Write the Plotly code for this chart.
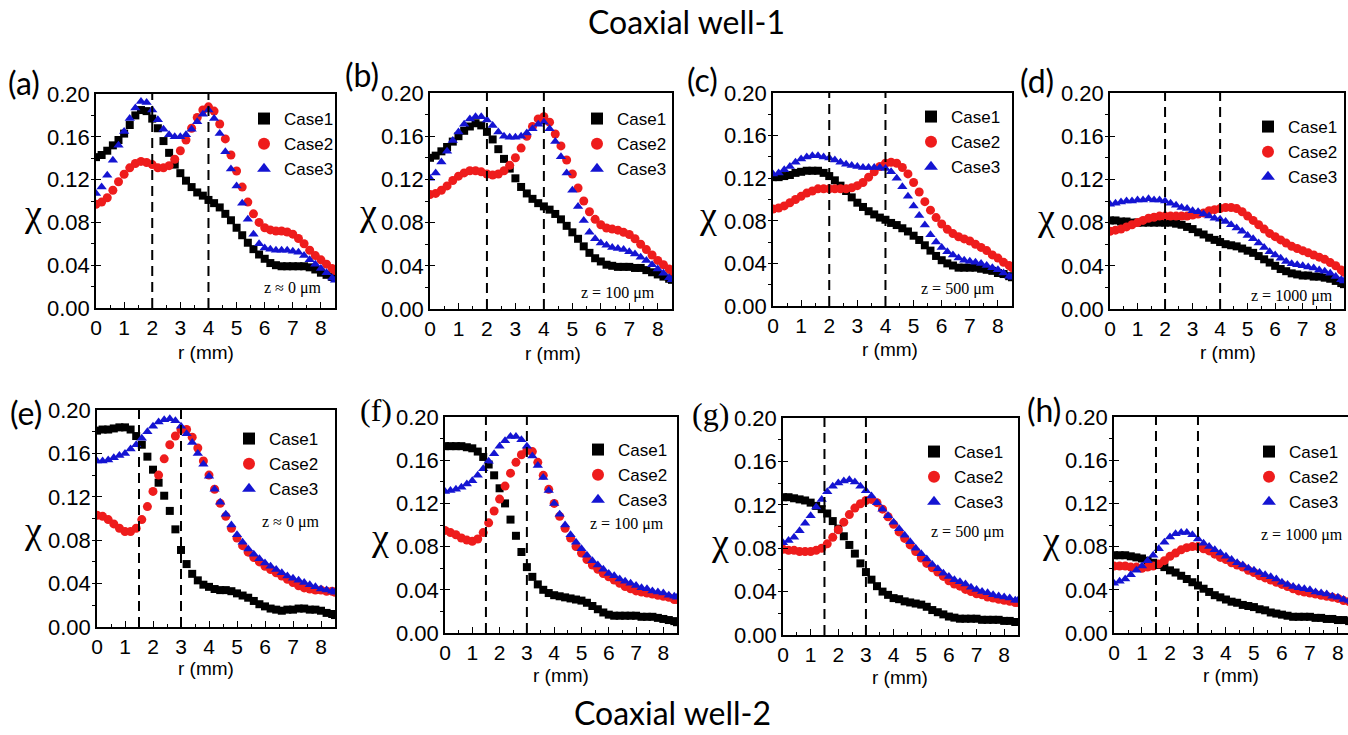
import plotly.graph_objects as go

W, H = 1348, 735

# radial positions (mm) shared by every series
R_MM = [0.0, 0.2, 0.4, 0.6, 0.8, 1.0, 1.2, 1.4, 1.6, 1.8, 2.0, 2.2, 2.4, 2.6, 2.8,
        3.0, 3.2, 3.4, 3.6, 3.8, 4.0, 4.2, 4.4, 4.6, 4.8, 5.0, 5.2, 5.4, 5.6, 5.8,
        6.0, 6.2, 6.4, 6.6, 6.8, 7.0, 7.2, 7.4, 7.6, 7.8, 8.0, 8.2, 8.4, 8.5]

# ---- Coaxial well-1 ----
CHI_A_CASE1 = [0.141, 0.143, 0.147, 0.152, 0.157, 0.163, 0.171, 0.180, 0.185, 0.184, 0.177, 0.168, 0.156, 0.145, 0.134,
               0.126, 0.119, 0.113, 0.108, 0.105, 0.101, 0.098, 0.094, 0.088, 0.082, 0.075, 0.068, 0.061, 0.055, 0.050,
               0.046, 0.042, 0.040, 0.039, 0.039, 0.039, 0.039, 0.039, 0.038, 0.036, 0.033, 0.031, 0.029, 0.028]
CHI_A_CASE2 = [0.097, 0.099, 0.103, 0.110, 0.118, 0.125, 0.131, 0.135, 0.137, 0.136, 0.134, 0.131, 0.131, 0.133, 0.139,
               0.147, 0.157, 0.168, 0.178, 0.185, 0.188, 0.184, 0.172, 0.158, 0.143, 0.128, 0.113, 0.099, 0.088, 0.080,
               0.075, 0.073, 0.072, 0.072, 0.071, 0.069, 0.065, 0.060, 0.054, 0.049, 0.045, 0.041, 0.037, 0.035]
CHI_A_CASE3 = [0.107, 0.113, 0.124, 0.138, 0.152, 0.165, 0.177, 0.187, 0.193, 0.192, 0.185, 0.176, 0.167, 0.162, 0.160,
               0.160, 0.162, 0.167, 0.174, 0.181, 0.185, 0.177, 0.163, 0.146, 0.130, 0.114, 0.098, 0.083, 0.069, 0.060,
               0.056, 0.055, 0.054, 0.054, 0.054, 0.053, 0.052, 0.049, 0.045, 0.041, 0.037, 0.033, 0.028, 0.026]

CHI_B_CASE1 = [0.140, 0.142, 0.146, 0.150, 0.155, 0.160, 0.165, 0.169, 0.172, 0.170, 0.164, 0.157, 0.148, 0.139, 0.130,
               0.121, 0.113, 0.107, 0.102, 0.098, 0.095, 0.092, 0.088, 0.083, 0.077, 0.071, 0.065, 0.058, 0.052, 0.047,
               0.044, 0.041, 0.040, 0.039, 0.039, 0.039, 0.038, 0.038, 0.036, 0.034, 0.032, 0.030, 0.028, 0.027]
CHI_B_CASE2 = [0.106, 0.107, 0.110, 0.114, 0.119, 0.123, 0.126, 0.128, 0.128, 0.127, 0.125, 0.124, 0.125, 0.128, 0.133,
               0.140, 0.149, 0.160, 0.169, 0.176, 0.178, 0.173, 0.162, 0.151, 0.138, 0.125, 0.112, 0.100, 0.090, 0.083,
               0.078, 0.075, 0.074, 0.073, 0.071, 0.069, 0.065, 0.060, 0.055, 0.050, 0.045, 0.041, 0.037, 0.035]
CHI_B_CASE3 = [0.121, 0.126, 0.136, 0.146, 0.156, 0.164, 0.171, 0.176, 0.178, 0.178, 0.175, 0.170, 0.164, 0.160, 0.159,
               0.159, 0.160, 0.163, 0.167, 0.171, 0.173, 0.167, 0.155, 0.141, 0.126, 0.110, 0.095, 0.082, 0.071, 0.065,
               0.061, 0.059, 0.057, 0.056, 0.055, 0.053, 0.051, 0.048, 0.045, 0.041, 0.037, 0.033, 0.029, 0.027]

CHI_C_CASE1 = [0.121, 0.121, 0.122, 0.123, 0.125, 0.126, 0.127, 0.127, 0.127, 0.125, 0.122, 0.118, 0.113, 0.108, 0.102,
               0.097, 0.093, 0.089, 0.086, 0.083, 0.081, 0.078, 0.076, 0.073, 0.070, 0.066, 0.062, 0.057, 0.052, 0.047,
               0.043, 0.040, 0.038, 0.036, 0.036, 0.036, 0.036, 0.035, 0.034, 0.033, 0.031, 0.030, 0.028, 0.027]
CHI_C_CASE2 = [0.091, 0.092, 0.094, 0.097, 0.100, 0.103, 0.106, 0.108, 0.110, 0.110, 0.110, 0.110, 0.110, 0.110, 0.111,
               0.113, 0.116, 0.121, 0.126, 0.131, 0.134, 0.135, 0.134, 0.130, 0.124, 0.116, 0.107, 0.098, 0.090, 0.083,
               0.077, 0.072, 0.068, 0.065, 0.063, 0.061, 0.058, 0.055, 0.052, 0.048, 0.045, 0.041, 0.038, 0.036]
CHI_C_CASE3 = [0.124, 0.125, 0.128, 0.131, 0.135, 0.138, 0.140, 0.141, 0.141, 0.140, 0.139, 0.137, 0.135, 0.133, 0.132,
               0.131, 0.130, 0.130, 0.130, 0.130, 0.129, 0.126, 0.120, 0.112, 0.103, 0.094, 0.085, 0.076, 0.067, 0.060,
               0.055, 0.051, 0.048, 0.045, 0.043, 0.042, 0.041, 0.040, 0.038, 0.036, 0.034, 0.031, 0.028, 0.027]

CHI_D_CASE1 = [0.082, 0.082, 0.081, 0.081, 0.080, 0.080, 0.080, 0.080, 0.080, 0.080, 0.080, 0.080, 0.079, 0.078, 0.076,
               0.074, 0.071, 0.069, 0.066, 0.064, 0.062, 0.060, 0.059, 0.058, 0.056, 0.054, 0.052, 0.049, 0.046, 0.043,
               0.040, 0.037, 0.035, 0.033, 0.032, 0.031, 0.031, 0.030, 0.030, 0.029, 0.028, 0.026, 0.024, 0.023]
CHI_D_CASE2 = [0.072, 0.073, 0.074, 0.076, 0.078, 0.080, 0.082, 0.084, 0.085, 0.086, 0.086, 0.086, 0.086, 0.086, 0.086,
               0.087, 0.088, 0.089, 0.091, 0.092, 0.093, 0.094, 0.094, 0.093, 0.090, 0.086, 0.082, 0.078, 0.074, 0.070,
               0.067, 0.064, 0.061, 0.058, 0.056, 0.054, 0.052, 0.050, 0.048, 0.046, 0.043, 0.040, 0.036, 0.034]
CHI_D_CASE3 = [0.097, 0.098, 0.099, 0.100, 0.100, 0.101, 0.101, 0.102, 0.101, 0.101, 0.100, 0.098, 0.096, 0.094, 0.093,
               0.091, 0.090, 0.088, 0.086, 0.084, 0.083, 0.081, 0.078, 0.075, 0.072, 0.068, 0.065, 0.061, 0.057, 0.053,
               0.050, 0.047, 0.044, 0.042, 0.041, 0.040, 0.039, 0.038, 0.036, 0.035, 0.033, 0.030, 0.027, 0.026]

# ---- Coaxial well-2 ----
CHI_E_CASE1 = [0.181, 0.182, 0.182, 0.183, 0.184, 0.184, 0.182, 0.176, 0.168, 0.157, 0.145, 0.133, 0.121, 0.107, 0.090,
               0.071, 0.058, 0.049, 0.043, 0.039, 0.037, 0.035, 0.034, 0.034, 0.033, 0.031, 0.029, 0.027, 0.024, 0.021,
               0.019, 0.017, 0.016, 0.015, 0.016, 0.016, 0.017, 0.017, 0.016, 0.016, 0.015, 0.013, 0.012, 0.011]
CHI_E_CASE2 = [0.103, 0.102, 0.099, 0.095, 0.091, 0.088, 0.088, 0.091, 0.099, 0.111, 0.125, 0.140, 0.155, 0.168, 0.176,
               0.182, 0.182, 0.175, 0.165, 0.153, 0.140, 0.127, 0.114, 0.102, 0.091, 0.082, 0.075, 0.069, 0.064, 0.060,
               0.056, 0.053, 0.050, 0.047, 0.044, 0.041, 0.038, 0.036, 0.035, 0.034, 0.034, 0.033, 0.033, 0.032]
CHI_E_CASE3 = [0.153, 0.153, 0.154, 0.156, 0.158, 0.160, 0.164, 0.168, 0.174, 0.180, 0.185, 0.189, 0.191, 0.192, 0.190,
               0.185, 0.178, 0.170, 0.160, 0.150, 0.139, 0.127, 0.115, 0.104, 0.094, 0.085, 0.078, 0.072, 0.067, 0.063,
               0.059, 0.056, 0.053, 0.050, 0.047, 0.045, 0.043, 0.041, 0.039, 0.037, 0.035, 0.034, 0.033, 0.032]

CHI_F_CASE1 = [0.173, 0.173, 0.173, 0.173, 0.172, 0.171, 0.168, 0.163, 0.156, 0.146, 0.134, 0.120, 0.105, 0.090, 0.075,
               0.061, 0.052, 0.045, 0.040, 0.037, 0.035, 0.034, 0.033, 0.032, 0.031, 0.030, 0.028, 0.025, 0.022, 0.019,
               0.017, 0.016, 0.016, 0.016, 0.016, 0.016, 0.015, 0.015, 0.015, 0.014, 0.013, 0.012, 0.011, 0.010]
CHI_F_CASE2 = [0.095, 0.093, 0.091, 0.088, 0.086, 0.085, 0.087, 0.093, 0.102, 0.113, 0.124, 0.136, 0.148, 0.158, 0.165,
               0.169, 0.168, 0.158, 0.146, 0.133, 0.120, 0.108, 0.097, 0.088, 0.080, 0.074, 0.068, 0.063, 0.059, 0.055,
               0.052, 0.049, 0.046, 0.043, 0.041, 0.039, 0.038, 0.037, 0.036, 0.035, 0.034, 0.033, 0.031, 0.031]
CHI_F_CASE3 = [0.131, 0.132, 0.133, 0.135, 0.138, 0.141, 0.146, 0.152, 0.159, 0.166, 0.173, 0.178, 0.182, 0.182, 0.179,
               0.173, 0.164, 0.155, 0.144, 0.132, 0.120, 0.110, 0.100, 0.091, 0.084, 0.078, 0.072, 0.067, 0.063, 0.059,
               0.055, 0.053, 0.050, 0.048, 0.046, 0.044, 0.042, 0.041, 0.039, 0.038, 0.037, 0.035, 0.034, 0.033]

CHI_G_CASE1 = [0.127, 0.127, 0.126, 0.125, 0.124, 0.122, 0.119, 0.116, 0.112, 0.105, 0.098, 0.091, 0.083, 0.075, 0.066,
               0.058, 0.051, 0.045, 0.040, 0.037, 0.034, 0.033, 0.031, 0.030, 0.029, 0.028, 0.026, 0.023, 0.021, 0.019,
               0.017, 0.016, 0.015, 0.015, 0.015, 0.015, 0.014, 0.014, 0.014, 0.014, 0.013, 0.013, 0.012, 0.012]
CHI_G_CASE2 = [0.079, 0.078, 0.078, 0.077, 0.077, 0.077, 0.078, 0.080, 0.084, 0.090, 0.097, 0.104, 0.111, 0.117, 0.121,
               0.124, 0.125, 0.122, 0.116, 0.109, 0.102, 0.095, 0.089, 0.083, 0.077, 0.071, 0.066, 0.062, 0.058, 0.054,
               0.050, 0.047, 0.045, 0.042, 0.040, 0.038, 0.037, 0.035, 0.034, 0.033, 0.032, 0.031, 0.030, 0.030]
CHI_G_CASE3 = [0.085, 0.087, 0.090, 0.096, 0.103, 0.110, 0.118, 0.125, 0.132, 0.137, 0.140, 0.142, 0.143, 0.141, 0.137,
               0.133, 0.128, 0.122, 0.116, 0.110, 0.104, 0.098, 0.092, 0.086, 0.080, 0.075, 0.070, 0.065, 0.061, 0.057,
               0.054, 0.051, 0.049, 0.047, 0.044, 0.042, 0.040, 0.039, 0.037, 0.036, 0.035, 0.034, 0.032, 0.032]

CHI_H_CASE1 = [0.072, 0.072, 0.072, 0.071, 0.070, 0.069, 0.067, 0.065, 0.063, 0.061, 0.058, 0.056, 0.053, 0.050, 0.047,
               0.044, 0.041, 0.038, 0.035, 0.033, 0.031, 0.029, 0.028, 0.026, 0.025, 0.024, 0.022, 0.021, 0.019, 0.018,
               0.017, 0.016, 0.015, 0.015, 0.015, 0.015, 0.014, 0.014, 0.013, 0.013, 0.012, 0.012, 0.011, 0.011]
CHI_H_CASE2 = [0.062, 0.062, 0.062, 0.061, 0.061, 0.060, 0.061, 0.062, 0.064, 0.067, 0.071, 0.074, 0.077, 0.079, 0.080,
               0.080, 0.078, 0.076, 0.073, 0.070, 0.068, 0.065, 0.063, 0.061, 0.058, 0.056, 0.053, 0.051, 0.049, 0.047,
               0.045, 0.043, 0.041, 0.039, 0.038, 0.037, 0.036, 0.035, 0.034, 0.033, 0.032, 0.030, 0.029, 0.028]
CHI_H_CASE3 = [0.046, 0.048, 0.050, 0.054, 0.058, 0.062, 0.067, 0.072, 0.078, 0.084, 0.089, 0.092, 0.093, 0.093, 0.091,
               0.087, 0.083, 0.080, 0.077, 0.074, 0.071, 0.068, 0.065, 0.063, 0.060, 0.058, 0.056, 0.054, 0.052, 0.050,
               0.047, 0.045, 0.043, 0.042, 0.041, 0.040, 0.038, 0.037, 0.036, 0.034, 0.033, 0.031, 0.030, 0.029]

PANEL_SERIES = [
    (CHI_A_CASE1, CHI_A_CASE2, CHI_A_CASE3),
    (CHI_B_CASE1, CHI_B_CASE2, CHI_B_CASE3),
    (CHI_C_CASE1, CHI_C_CASE2, CHI_C_CASE3),
    (CHI_D_CASE1, CHI_D_CASE2, CHI_D_CASE3),
    (CHI_E_CASE1, CHI_E_CASE2, CHI_E_CASE3),
    (CHI_F_CASE1, CHI_F_CASE2, CHI_F_CASE3),
    (CHI_G_CASE1, CHI_G_CASE2, CHI_G_CASE3),
    (CHI_H_CASE1, CHI_H_CASE2, CHI_H_CASE3),
]

CASE_NAMES = ["Case1", "Case2", "Case3"]
PANEL_TAGS = ["(a)", "(b)", "(c)", "(d)", "(e)", "(f)", "(g)", "(h)"]
DEPTH_LABELS = ["z \u2248 0 \u03bcm", "z = 100 \u03bcm", "z = 500 \u03bcm", "z = 1000 \u03bcm",
                "z \u2248 0 \u03bcm", "z = 100 \u03bcm", "z = 500 \u03bcm", "z = 1000 \u03bcm"]
# well boundaries marked by dashed guides (mm)
GUIDE_R = [[2, 4], [2, 4], [2, 4], [2, 4], [1.5, 3], [1.5, 3], [1.5, 3], [1.5, 3]]
ROW_TITLES = ["Coaxial well-1", "Coaxial well-2"]
X_TITLE = "r (mm)"

# ---- styling / placement (pixels of the 1348x735 canvas) ----
CASE_COLORS = ["#000000", "#ee1c1c", "#1414d2"]
CASE_SYMBOLS = ["square", "circle", "triangle-up"]
CASE_SIZES = [8, 9, 9]

# plot frame: left, right, top, bottom, x max
FRAMES = [
    (96, 335, 94, 308, 8.5), (430, 672, 93, 309, 8.5), (773, 1012, 93, 306, 8.5), (1110, 1344, 93, 309, 8.5),
    (97, 335, 410, 627, 8.5), (445, 677, 417, 633, 8.5), (783, 1018, 418, 635, 8.5), (1114, 1348, 417, 633, 8.36),
]
TAG_POS = [(24, 83), (362, 74), (702, 79), (1037, 81), (26, 412), (376, 410), (710, 414), (1044, 410)]
TAG_FONTS = ["Lato", "Lato", "Lato", "Lato", "Lato", "Liberation Serif", "Liberation Serif", "Lato"]
CHI_POS = [(33, 213), (368, 212), (708, 215), (1046, 217), (33, 530), (380, 537), (720, 542), (1051, 540)]
DEPTH_POS = [(292, 288), (618, 293), (958, 289), (1292, 296), (290, 522), (627, 524), (968, 532), (1302, 535)]
LEGEND_POS = [(265, 112), (598, 112), (932, 110), (1269, 120), (250, 432), (599, 443), (935, 445), (1270, 445)]
XTITLE_POS = [(206, 352), (553, 353), (890, 349), (1228, 352), (206, 668), (561, 675), (900, 677), (1231, 675)]
TITLE_POS = [(686, 22), (672, 712)]

SANS = "Liberation Sans"
SERIF = "Liberation Serif"


def fx(px):
    return px / W


def fy(py):
    return 1 - py / H


fig = go.Figure()
layout = dict(
    width=W, height=H,
    margin=dict(l=0, r=0, t=0, b=0),
    paper_bgcolor="white", plot_bgcolor="white",
    showlegend=True,
)
annotations = []
shapes = []


def note(text, pos, family, size):
    return dict(text=text, x=fx(pos[0]), y=fy(pos[1]), xref="paper", yref="paper",
                showarrow=False, xanchor="center", yanchor="middle",
                font=dict(family=family, size=size, color="black"))


for i, series in enumerate(PANEL_SERIES):
    sfx = "" if i == 0 else str(i + 1)
    xref, yref = "x" + sfx, "y" + sfx
    legend_id = "legend" + sfx
    left, right, top, bottom, xmax = FRAMES[i]

    for k, values in enumerate(series):
        fig.add_trace(go.Scatter(
            x=R_MM, y=values, mode="markers", name=CASE_NAMES[k],
            marker=dict(symbol=CASE_SYMBOLS[k], color=CASE_COLORS[k], size=CASE_SIZES[k], line=dict(width=0)),
            xaxis=xref, yaxis=yref, legend=legend_id, cliponaxis=True,
        ))

    layout["xaxis" + sfx] = dict(
        domain=[fx(left), fx(right)], range=[0, xmax], anchor=yref,
        tick0=0, dtick=1, ticks="inside", ticklen=6, tickwidth=1.3, tickcolor="black",
        minor=dict(dtick=0.5, ticks="inside", ticklen=3, tickwidth=1.2, tickcolor="black"),
        showline=True, linecolor="black", linewidth=1.6, mirror=True,
        showgrid=False, zeroline=False, automargin=False, fixedrange=True,
        tickfont=dict(family=SANS, size=21, color="black"),
    )
    layout["yaxis" + sfx] = dict(
        domain=[fy(bottom), fy(top)], range=[0, 0.2], anchor=xref,
        tick0=0, dtick=0.04, tickformat=".2f", ticks="inside", ticklen=5, tickwidth=1.3, tickcolor="black",
        minor=dict(dtick=0.02, ticks="outside", ticklen=3, tickwidth=1.2, tickcolor="black"),
        showline=True, linecolor="black", linewidth=1.6, mirror=True,
        showgrid=False, zeroline=False, automargin=False, fixedrange=True,
        tickfont=dict(family=SANS, size=22, color="black"),
    )

    sx, sy = LEGEND_POS[i]
    layout[legend_id] = dict(
        x=fx(sx - 21), y=fy(sy - 11), xanchor="left", yanchor="top",
        bgcolor="rgba(0,0,0,0)", borderwidth=0, itemsizing="constant", tracegroupgap=0,
        font=dict(family=SANS, size=17, color="black"),
    )

    for g in GUIDE_R[i]:
        shapes.append(dict(type="line", xref=xref, yref=yref, x0=g, x1=g, y0=0, y1=0.2,
                           line=dict(color="black", width=2, dash="10px,6px"), layer="above"))

    annotations.append(note(PANEL_TAGS[i], TAG_POS[i], TAG_FONTS[i], 32))
    annotations.append(note("\u03c7", CHI_POS[i], SERIF, 38))
    annotations.append(note(DEPTH_LABELS[i], DEPTH_POS[i], SERIF, 16))
    annotations.append(note(X_TITLE, XTITLE_POS[i], SANS, 19))

for title, pos in zip(ROW_TITLES, TITLE_POS):
    annotations.append(note(title, pos, "Lato", 32))

layout["annotations"] = annotations
layout["shapes"] = shapes
fig.update_layout(**layout)

fig.write_html("out.html")
